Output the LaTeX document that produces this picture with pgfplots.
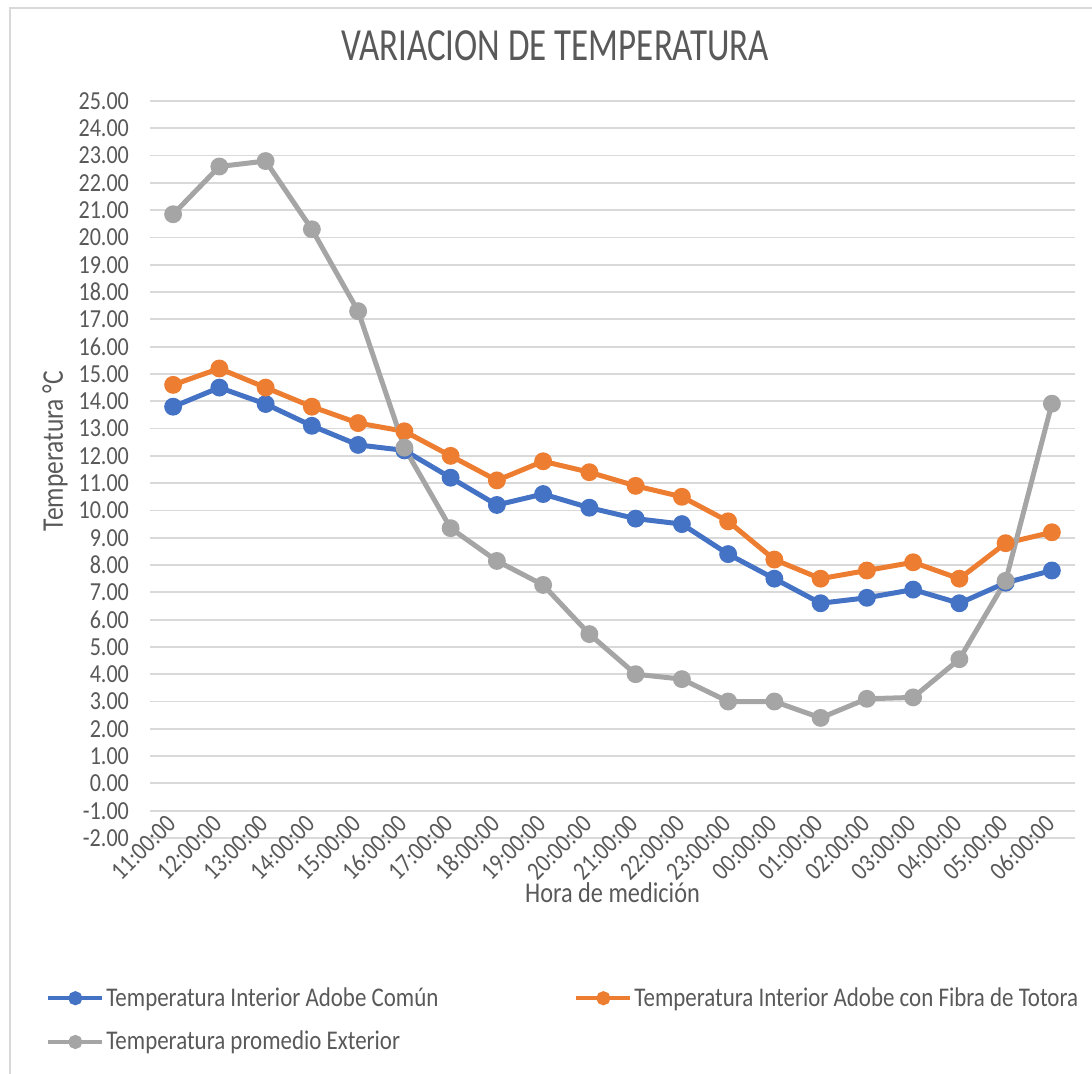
\documentclass[border=0pt]{standalone}
\usepackage{fontspec}
\setmainfont{Carlito}[FakeStretch=0.85]
\newfontfamily\titlefont{Carlito}[FakeStretch=0.76]
\usepackage{pgfplots}
\pgfplotsset{compat=1.18}

\definecolor{xlblue}{HTML}{4472C4}
\definecolor{xlorange}{HTML}{ED7D31}
\definecolor{xlgray}{HTML}{A5A5A5}
\definecolor{gridgray}{HTML}{D9D9D9}
\definecolor{txt}{HTML}{595959}

\begin{document}
\begin{tikzpicture}
\useasboundingbox (0,0) rectangle (546pt,537pt);
\draw[gridgray, line width=0.8pt] (5pt,-2pt) -- (5pt,533pt) -- (550pt,533pt);
\begin{axis}[
  at={(75pt,118pt)}, anchor=south west,
  scale only axis, width=462.5pt, height=368.5pt,
  xmin=-0.5, xmax=19.5, ymin=-2, ymax=25,
  axis line style={draw=none},
  major tick length=0pt,
  xtick={0,...,19},
  xticklabels={11:00:00,12:00:00,13:00:00,14:00:00,15:00:00,16:00:00,17:00:00,18:00:00,19:00:00,20:00:00,21:00:00,22:00:00,23:00:00,00:00:00,01:00:00,02:00:00,03:00:00,04:00:00,05:00:00,06:00:00},
  xticklabel style={rotate=45, anchor=east, font=\fontsize{13}{15}\selectfont, text=txt, inner sep=1pt},
  xticklabel shift=-10pt,
  ytick={-2,...,25},
  yticklabel style={font=\fontsize{13}{15}\selectfont, text=txt},
  yticklabel shift=7pt,
  /pgf/number format/.cd, fixed, fixed zerofill, precision=2, assume math mode=true,
  /pgfplots/.cd,
  ymajorgrids, grid style={gridgray, line width=0.9pt},
  title={VARIACION DE TEMPERATURA},
  title style={at={(axis description cs:0.438,1.058)}, anchor=center, font=\titlefont\fontsize{23}{26}\selectfont, text=txt},
  xlabel={Hora de medición},
  xlabel style={at={(axis description cs:0.5,-0.0746)}, anchor=center, font=\fontsize{14.3}{17}\selectfont, text=txt},
  ylabel={Temperatura °C},
  ylabel style={at={(axis description cs:-0.1027,0.525)}, anchor=center, rotate=0, font=\fontsize{15}{17}\selectfont, text=txt},
  legend columns=2,
  legend cell align=left,
  legend style={at={(axis description cs:-0.1125,-0.1967)}, anchor=north west, draw=none, fill=none, inner sep=0pt,
    font=\fontsize{13.5}{15}\selectfont, text=txt, row sep=7pt, nodes={inner xsep=1pt},
    /tikz/every even column/.append style={column sep=67pt}},
  legend image code/.code={\draw[mark repeat=2, mark phase=2, line width=2pt, mark size=2.5pt] plot coordinates {(0pt,0pt) (13.5pt,0pt) (27pt,0pt)};},
  every axis plot/.append style={line width=2.5pt, mark=*, mark size=3.2pt},
]
\addplot[xlblue, mark options={fill=xlblue}] coordinates {
  (0,13.8) (1,14.5) (2,13.9) (3,13.1) (4,12.4) (5,12.2) (6,11.2) (7,10.2) (8,10.6) (9,10.1)
  (10,9.7) (11,9.5) (12,8.4) (13,7.5) (14,6.6) (15,6.8) (16,7.1) (17,6.6) (18,7.35) (19,7.8)};
\addlegendentry{Temperatura Interior Adobe Común}
\addplot[xlorange, mark options={fill=xlorange}] coordinates {
  (0,14.6) (1,15.2) (2,14.5) (3,13.8) (4,13.2) (5,12.9) (6,12.0) (7,11.1) (8,11.8) (9,11.4)
  (10,10.9) (11,10.5) (12,9.6) (13,8.2) (14,7.5) (15,7.8) (16,8.1) (17,7.5) (18,8.8) (19,9.2)};
\addlegendentry{Temperatura Interior Adobe con Fibra de Totora}
\addplot[xlgray, mark options={fill=xlgray}] coordinates {
  (0,20.85) (1,22.6) (2,22.8) (3,20.3) (4,17.3) (5,12.3) (6,9.35) (7,8.15) (8,7.27) (9,5.47)
  (10,4.0) (11,3.82) (12,3.0) (13,3.0) (14,2.4) (15,3.1) (16,3.15) (17,4.55) (18,7.42) (19,13.91)};
\addlegendentry{Temperatura promedio Exterior}
\end{axis}
\end{tikzpicture}
\end{document}
